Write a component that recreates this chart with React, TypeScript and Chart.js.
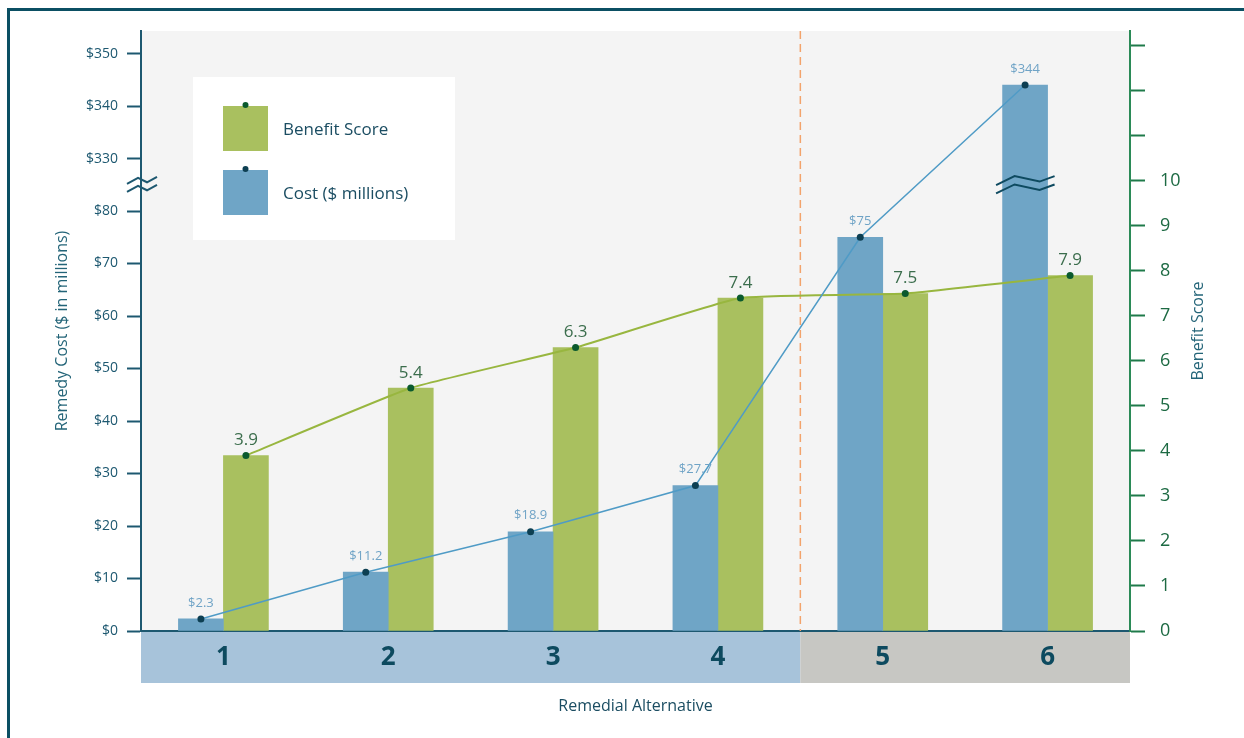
import React, { useEffect, useRef } from 'react';
import { Chart, registerables } from 'chart.js';

Chart.register(...registerables);

// ---- data ----
const categories = ['1', '2', '3', '4', '5', '6'];
const costValues = [2.3, 11.2, 18.9, 27.7, 75, 344];
const benefitValues = [3.9, 5.4, 6.3, 7.4, 7.5, 7.9];
const legendLabels = ['Benefit Score', 'Cost ($ millions)'];
const phaseSplitAfter = 4; // alternatives 1-4 vs 5-6

// broken cost axis: $0-$80, then $330-$350
const BREAK_LOW = 80;
const BREAK_HIGH = 330;
const BREAK_AXIS_POS = 90; // axis position where $330 is plotted
const SHIFT = BREAK_HIGH - BREAK_AXIS_POS;
const toAxis = (v: number) => (v > BREAK_LOW ? v - SHIFT : v);
const costTick = (v: number) => (v <= BREAK_LOW ? `$${v}` : v >= BREAK_AXIS_POS ? `$${v + SHIFT}` : '');

const COST_MAX = 114.29;
const BEN_MAX = 13.333;
const BEN_LABEL_MAX = 10;
const BAR_PX = 45;
const CAT_PX = 989 / 6;
const HALF_OFF = BAR_PX / 2 / CAT_PX; // bar centre offset in category units

const FONT = "'Open Sans', sans-serif";
const C = {
  frame: '#0b4f63',
  plotBg: '#f4f4f4',
  blueBar: '#6fa5c6',
  greenBar: '#a9c05f',
  blueLine: '#4f9bc6',
  greenLine: '#98b63f',
  bluePt: '#0d3f52',
  greenPt: '#0b5a2e',
  leftAxis: '#1d5870',
  rightAxis: '#2b8a57',
  rightTick: '#1f7a4a',
  rightLabel: '#1d6a43',
  costLabel: '#6fa3c6',
  benLabel: '#3b6d4c',
  bandBlue: '#a7c3da',
  bandGray: '#c7c7c3',
  dash: '#f3a36b',
  title: '#236478',
  legendText: '#1b4d62',
};

function zigzag(ctx: CanvasRenderingContext2D, cx: number, cy: number, pts: number[][], off: number) {
  ctx.beginPath();
  pts.forEach(([dx, dy], i) => {
    const x = cx + dx;
    const y = cy + dy + off;
    if (i === 0) ctx.moveTo(x, y);
    else ctx.lineTo(x, y);
  });
  ctx.stroke();
}

const decorPlugin = {
  id: 'decor',
  beforeDraw(chart: any) {
    const { ctx, chartArea } = chart;
    const xs = chart.scales.x;
    ctx.save();
    ctx.fillStyle = C.plotBg;
    ctx.fillRect(chartArea.left, chartArea.top, chartArea.right - chartArea.left, chartArea.bottom - chartArea.top);
    const split = (xs.getPixelForValue(phaseSplitAfter - 1) + xs.getPixelForValue(phaseSplitAfter)) / 2;
    const bandTop = chartArea.bottom + 1;
    const bandH = 51;
    ctx.fillStyle = C.bandBlue;
    ctx.fillRect(chartArea.left, bandTop, split - chartArea.left, bandH);
    ctx.fillStyle = C.bandGray;
    ctx.fillRect(split, bandTop, chartArea.right - split, bandH);
    ctx.restore();
  },
  beforeDatasetsDraw(chart: any) {
    const { ctx, chartArea } = chart;
    const xs = chart.scales.x;
    const split = (xs.getPixelForValue(phaseSplitAfter - 1) + xs.getPixelForValue(phaseSplitAfter)) / 2;
    ctx.save();
    ctx.strokeStyle = C.dash;
    ctx.lineWidth = 1.5;
    ctx.setLineDash([8, 5]);
    ctx.beginPath();
    ctx.moveTo(split, chartArea.top);
    ctx.lineTo(split, chartArea.bottom);
    ctx.stroke();
    ctx.restore();
  },
  afterDatasetsDraw(chart: any) {
    const { ctx, chartArea } = chart;
    ctx.save();
    ctx.textAlign = 'center';
    ctx.textBaseline = 'middle';
    // value labels
    const costMeta = chart.getDatasetMeta(0);
    ctx.font = `13px ${FONT}`;
    ctx.fillStyle = C.costLabel;
    costMeta.data.forEach((p: any, i: number) => {
      ctx.fillText(`$${costValues[i]}`, p.x, p.y - 16);
    });
    const benMeta = chart.getDatasetMeta(1);
    ctx.font = `17px ${FONT}`;
    ctx.fillStyle = C.benLabel;
    benMeta.data.forEach((p: any, i: number) => {
      ctx.fillText(benefitValues[i].toFixed(1), p.x, p.y - 15);
    });

    // break mark inside the tall cost bar
    const yc = chart.scales.yCost;
    const breakY = yc.getPixelForValue((BREAK_LOW + BREAK_AXIS_POS) / 2);
    const barMeta = chart.getDatasetMeta(2);
    const bigIdx = costValues.findIndex((v) => v > BREAK_LOW);
    if (bigIdx >= 0) {
      const bar = barMeta.data[bigIdx];
      ctx.strokeStyle = '#0e4a60';
      ctx.lineWidth = 2;
      const shape = [[-29, 4.5], [-10.5, -4.5], [14.5, 1], [29.5, -4.5]];
      zigzag(ctx, bar.x, breakY, shape, -4.2);
      zigzag(ctx, bar.x, breakY, shape, 4.2);
    }

    // legend box
    const lx = chartArea.left + 52;
    const ly = chartArea.top + 46;
    ctx.fillStyle = '#ffffff';
    ctx.fillRect(lx, ly, 262, 163);
    const items = [
      { color: C.greenBar, dot: C.greenPt, label: legendLabels[0] },
      { color: C.blueBar, dot: C.bluePt, label: legendLabels[1] },
    ];
    items.forEach((it, i) => {
      const sx = lx + 30;
      const sy = ly + 29 + i * 64;
      ctx.fillStyle = it.color;
      ctx.fillRect(sx, sy, 45, 45);
      ctx.fillStyle = it.dot;
      ctx.beginPath();
      ctx.arc(sx + 22.5, sy - 1, 3, 0, Math.PI * 2);
      ctx.fill();
      ctx.fillStyle = C.legendText;
      ctx.font = `17px ${FONT}`;
      ctx.textAlign = 'left';
      ctx.fillText(it.label, lx + 90, sy + 24);
    });
    ctx.restore();
  },
  afterDraw(chart: any) {
    const { ctx, chartArea } = chart;
    const yc = chart.scales.yCost;
    const breakY = yc.getPixelForValue((BREAK_LOW + BREAK_AXIS_POS) / 2);
    ctx.save();
    ctx.strokeStyle = C.leftAxis;
    ctx.lineWidth = 2;
    const shape = [[-14, 3], [-3, -3], [6, 1.5], [16, -4]];
    zigzag(ctx, chartArea.left, breakY, shape, -4);
    zigzag(ctx, chartArea.left, breakY, shape, 4);
    // right axis title (reads bottom-to-top)
    ctx.translate(chartArea.right + 68, (chartArea.top + chartArea.bottom) / 2);
    ctx.rotate(-Math.PI / 2);
    ctx.font = `16px ${FONT}`;
    ctx.fillStyle = C.title;
    ctx.textAlign = 'center';
    ctx.textBaseline = 'middle';
    ctx.fillText('Benefit Score', 0, 0);
    ctx.restore();
  },
};

export default function App() {
  const ref = useRef<HTMLCanvasElement | null>(null);

  useEffect(() => {
    if (!ref.current) return;
    Chart.defaults.font.family = FONT;
    const chart = new Chart(ref.current, {
      type: 'bar',
      data: {
        labels: categories,
        datasets: [
          {
            type: 'line',
            label: 'Cost line',
            data: costValues.map((v, i) => ({ x: i - HALF_OFF, y: toAxis(v) })),
            xAxisID: 'xl',
            yAxisID: 'yCost',
            borderColor: C.blueLine,
            borderWidth: 1.5,
            pointRadius: 3.5,
            pointBackgroundColor: C.bluePt,
            pointBorderWidth: 0,
            tension: 0,
            order: 0,
          } as any,
          {
            type: 'line',
            label: 'Benefit line',
            data: benefitValues.map((v, i) => ({ x: i + HALF_OFF, y: v })),
            xAxisID: 'xl',
            yAxisID: 'yBen',
            borderColor: C.greenLine,
            borderWidth: 2,
            pointRadius: 3.5,
            pointBackgroundColor: C.greenPt,
            pointBorderWidth: 0,
            tension: 0.12,
            order: 0,
          } as any,
          {
            type: 'bar',
            label: 'Cost ($ millions)',
            data: costValues.map(toAxis),
            backgroundColor: C.blueBar,
            xAxisID: 'x',
            yAxisID: 'yCost',
            barThickness: BAR_PX,
            order: 1,
          },
          {
            type: 'bar',
            label: 'Benefit Score',
            data: benefitValues,
            backgroundColor: C.greenBar,
            xAxisID: 'x',
            yAxisID: 'yBen',
            barThickness: BAR_PX,
            order: 1,
          },
        ],
      },
      options: {
        responsive: false,
        maintainAspectRatio: false,
        animation: false,
        devicePixelRatio: 1,
        layout: { padding: { top: 31, left: 0, right: 0, bottom: 0 } },
        plugins: { legend: { display: false }, tooltip: { enabled: false } },
        scales: {
          x: {
            type: 'category',
            position: 'bottom',
            offset: true,
            grid: { display: false, drawTicks: false },
            border: { display: true, color: C.leftAxis, width: 2 },
            ticks: { font: { size: 26, weight: 'bold' }, color: '#0d4a5f', padding: 11 },
            title: {
              display: true,
              text: 'Remedial Alternative',
              font: { size: 16 },
              color: C.legendText,
              padding: { top: 0, bottom: 22 },
            },
            afterFit: (s: any) => { s.height = 107; },
          },
          xl: { type: 'linear', display: false, offset: false, grid: { offset: false }, min: -0.5, max: 5.5 },
          yCost: {
            type: 'linear',
            position: 'left',
            min: 0,
            max: COST_MAX,
            grid: { drawOnChartArea: false, drawTicks: true, tickLength: 14, tickWidth: 2, tickColor: C.leftAxis },
            border: { display: true, color: C.leftAxis, width: 2 },
            ticks: {
              stepSize: 10,
              includeBounds: false,
              padding: 9,
              color: C.leftAxis,
              font: { size: 14 },
              callback: (v: any) => costTick(Number(v)),
            },
            title: {
              display: true,
              text: 'Remedy Cost ($ in millions)',
              font: { size: 16 },
              color: C.title,
              padding: { top: 53, bottom: 0 },
            },
            afterFit: (s: any) => { s.width = 141; },
          },
          yBen: {
            type: 'linear',
            position: 'right',
            min: 0,
            max: BEN_MAX,
            grid: { drawOnChartArea: false, drawTicks: true, tickLength: 15, tickWidth: 2, tickColor: C.rightTick },
            border: { display: true, color: C.rightAxis, width: 2 },
            ticks: {
              stepSize: 1,
              includeBounds: false,
              padding: 15,
              color: C.rightLabel,
              font: { size: 18 },
              callback: (v: any) => (Number(v) <= BEN_LABEL_MAX ? String(v) : ''),
            },
            afterFit: (s: any) => { s.width = 114; },
          },
        },
      } as any,
      plugins: [decorPlugin],
    });
    return () => chart.destroy();
  }, []);

  return (
    <div style={{ position: 'fixed', left: 0, top: 0, width: 1244, height: 738, overflow: 'hidden', background: '#ffffff' }}>
      <div
        style={{
          position: 'absolute',
          left: 7,
          top: 8,
          width: 1300,
          height: 800,
          borderLeft: `3px solid ${C.frame}`,
          borderTop: `3px solid ${C.frame}`,
        }}
      />
      <canvas ref={ref} width={1244} height={738} style={{ position: 'absolute', left: 0, top: 0, width: 1244, height: 738 }} />
    </div>
  );
}
